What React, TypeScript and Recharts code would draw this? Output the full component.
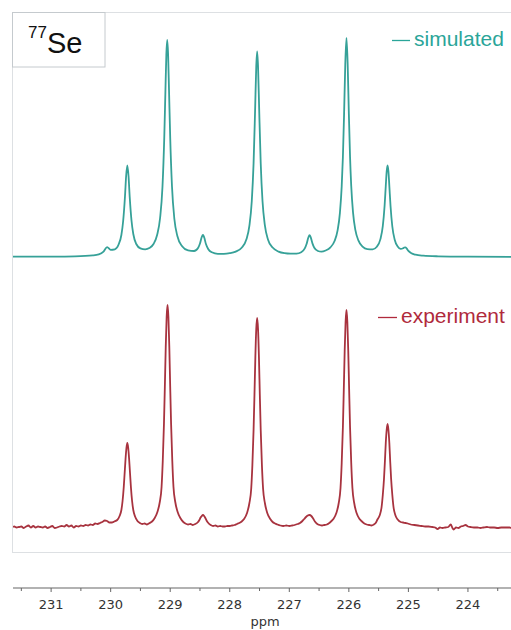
import React from 'react';
import { LineChart, Line, XAxis, YAxis } from 'recharts';

// [ppm, intensity above baseline]
const simulatedPoints: [number, number][] = [
  [231.64, 0.3], [231.0, 0.4], [230.6, 0.7], [230.3, 1.6], [230.2, 2.6], [230.12, 5.4],
  [230.06, 9.9], [230.0, 7.2], [229.93, 7.7], [229.87, 12], [229.82, 22], [229.79, 36],
  [229.76, 60], [229.74, 81], [229.72, 91.5], [229.7, 81], [229.68, 60], [229.65, 36.5],
  [229.62, 23], [229.57, 13], [229.5, 8.6], [229.42, 7.7], [229.35, 9], [229.28, 13],
  [229.22, 22], [229.17, 39], [229.13, 70], [229.1, 119], [229.08, 167], [229.065, 202],
  [229.05, 217], [229.035, 202], [229.02, 167], [229.0, 119.5], [228.97, 70.5], [228.93, 38],
  [228.88, 21], [228.8, 10.8], [228.7, 6.6], [228.6, 6], [228.53, 9.3], [228.5, 13.5],
  [228.47, 20], [228.45, 22], [228.43, 19.7], [228.4, 13], [228.36, 7.8], [228.3, 4.7],
  [228.2, 3.2], [228.1, 3.2], [228.0, 3.8], [227.9, 5.4], [227.8, 9.3], [227.72, 17.7],
  [227.67, 31.4], [227.63, 56], [227.6, 93.6], [227.575, 145.5], [227.555, 190.4], [227.54, 205.5],
  [227.525, 190.5], [227.505, 145.5], [227.48, 93.8], [227.45, 56], [227.41, 31.6], [227.36, 17.8],
  [227.28, 9.5], [227.18, 5.4], [227.08, 3.8], [226.98, 3.3], [226.88, 3.4], [226.8, 4.8],
  [226.74, 8.6], [226.71, 13], [226.68, 19.5], [226.66, 21.8], [226.64, 19.6], [226.61, 13.4],
  [226.58, 9.2], [226.52, 6], [226.46, 5.3], [226.39, 6.5], [226.31, 9.6], [226.24, 16],
  [226.19, 26.3], [226.15, 44.2], [226.12, 70.6], [226.1, 100], [226.08, 143], [226.06, 193],
  [226.04, 219], [226.02, 193.3], [226.0, 143.2], [225.98, 100.2], [225.96, 71], [225.93, 44.6],
  [225.89, 26.8], [225.84, 16.6], [225.77, 10.4], [225.69, 7.9], [225.6, 7.7], [225.53, 10.3],
  [225.47, 17.9], [225.43, 30.8], [225.4, 51], [225.38, 71], [225.365, 85.4], [225.35, 91.5],
  [225.335, 85.5], [225.32, 71], [225.3, 51], [225.27, 30.5], [225.23, 17.3], [225.18, 10.5],
  [225.13, 8.1], [225.09, 8.7], [225.07, 9.5], [225.05, 9.7], [225.03, 8.6], [225.0, 6.1],
  [224.95, 3.7], [224.88, 2.3], [224.75, 1.35], [224.5, 0.7], [224.0, 0.3], [223.27, 0.15],
];

const experimentPoints: [number, number][] = [
  [231.64, 0], [231.62, 0.5], [231.58, -0.5], [231.54, 0], [231.5, 0.5], [231.46, -1],
  [231.42, 0.5], [231.38, 1.5], [231.34, -0.5], [231.3, 1], [231.26, -0.5], [231.22, 0.5],
  [231.18, 0], [231.14, -0.5], [231.1, 0.5], [231.06, -1], [231.02, 0], [230.98, 1],
  [230.94, -1], [230.9, -0.5], [230.86, 0.5], [230.82, 1], [230.78, 0.5], [230.74, 2],
  [230.7, 0.5], [230.66, 1.5], [230.62, -0.5], [230.58, 1], [230.54, 0.5], [230.5, 1.5],
  [230.46, 1], [230.42, 2], [230.38, 1.5], [230.34, 2.5], [230.3, 2], [230.26, 3.5],
  [230.22, 3], [230.18, 4], [230.14, 5], [230.1, 6.5], [230.06, 6], [230.02, 4.5],
  [229.98, 4.5], [229.94, 5.5], [229.89, 7], [229.85, 11], [229.82, 17], [229.8, 26],
  [229.78, 40], [229.765, 54], [229.75, 68], [229.735, 79], [229.72, 84], [229.705, 79],
  [229.69, 68], [229.675, 54], [229.66, 40], [229.64, 26], [229.62, 17], [229.59, 10.5],
  [229.55, 6], [229.51, 4], [229.47, 3], [229.43, 3.5], [229.39, 2.5], [229.345, 4],
  [229.305, 5.5], [229.265, 8.5], [229.215, 15], [229.175, 25], [229.145, 40], [229.125, 66],
  [229.105, 103], [229.09, 140], [229.075, 180], [229.06, 210], [229.045, 222], [229.03, 210],
  [229.015, 180], [229.0, 140], [228.985, 103], [228.965, 66], [228.945, 40], [228.915, 25],
  [228.875, 15], [228.825, 8.5], [228.78, 5], [228.745, 3.5], [228.7, 2.5], [228.66, 3],
  [228.62, 2], [228.58, 3], [228.54, 4.5], [228.51, 7], [228.49, 9.5], [228.47, 11],
  [228.45, 12], [228.43, 11], [228.41, 9], [228.39, 6.5], [228.36, 4], [228.32, 2],
  [228.28, 1], [228.24, 1.5], [228.2, 0.5], [228.16, 1], [228.12, 0.5], [228.08, 0.5],
  [228.04, 1], [228.0, 1], [227.96, 1.5], [227.92, 2], [227.88, 3], [227.84, 4],
  [227.8, 5.5], [227.76, 8], [227.71, 14], [227.67, 24], [227.64, 38], [227.62, 62],
  [227.6, 97], [227.585, 132], [227.57, 170], [227.555, 198], [227.54, 209], [227.525, 198],
  [227.51, 170], [227.495, 132], [227.48, 97], [227.46, 62], [227.44, 38], [227.41, 24],
  [227.37, 14], [227.32, 8], [227.28, 5], [227.24, 3.5], [227.2, 2.5], [227.15, 1.5],
  [227.1, 1], [227.05, 1.5], [227.0, 1], [226.95, 1.5], [226.91, 2], [226.86, 3],
  [226.82, 4], [226.78, 6], [226.75, 8], [226.72, 10], [226.69, 11.5], [226.66, 12],
  [226.63, 11], [226.6, 8.5], [226.57, 5.5], [226.53, 3], [226.49, 2], [226.45, 1.5],
  [226.41, 2], [226.37, 2.5], [226.34, 3.5], [226.3, 5.5], [226.26, 8], [226.21, 14],
  [226.17, 24], [226.14, 39], [226.12, 64], [226.1, 100], [226.085, 137], [226.07, 176],
  [226.055, 205], [226.04, 217], [226.025, 205], [226.01, 176], [225.995, 137], [225.98, 100],
  [225.96, 64], [225.94, 39], [225.91, 24], [225.87, 14], [225.82, 8], [225.78, 5.5],
  [225.74, 3.5], [225.7, 2.5], [225.66, 2], [225.62, 1.5], [225.58, 2.5], [225.55, 4],
  [225.52, 7.5], [225.48, 12], [225.45, 20], [225.43, 32], [225.41, 48], [225.395, 65],
  [225.38, 84], [225.365, 97], [225.35, 103], [225.335, 97], [225.32, 84], [225.305, 65],
  [225.29, 48], [225.27, 32], [225.25, 20], [225.22, 12], [225.18, 7.5], [225.13, 5],
  [225.09, 4.5], [225.05, 4], [225.01, 3.5], [224.96, 2.5], [224.9, 2], [224.84, 1.5],
  [224.78, 1], [224.72, 0.5], [224.66, 0.5], [224.6, 0], [224.55, -0.5], [224.51, -2],
  [224.47, -0.5], [224.43, -1], [224.38, -0.5], [224.33, 0], [224.29, 2.5], [224.26, -1],
  [224.24, -2.5], [224.2, -0.5], [224.16, -1], [224.12, 0.5], [224.08, 1], [224.04, 2],
  [224.0, 0.5], [223.96, 0], [223.9, -0.5], [223.84, -0.5], [223.79, -1], [223.74, -0.5],
  [223.68, 0], [223.63, -0.5], [223.56, -0.5], [223.5, -1], [223.44, -0.5], [223.38, -0.5],
  [223.3, -0.5], [223.27, -1],
];

const majorTicks = [231, 230, 229, 228, 227, 226, 225, 224];
const minorTicks = [231.5, 230.5, 229.5, 228.5, 227.5, 226.5, 225.5, 224.5, 223.5];
const seriesNames = ['simulated', 'experiment'];
const seriesColors = ['#36a198', '#a8333f'];
const legendColors = ['#2aa599', '#b02a3c'];
const axisTitle = 'ppm';
const nucleusMass = '77';
const nucleusSymbol = 'Se';

const simData = simulatedPoints.map(([x, y]) => ({ x, y }));
const expData = experimentPoints.map(([x, y]) => ({ x, y }));
const allTicks = [...majorTicks, ...minorTicks].sort((a, b) => b - a);

const W = 511;
const H = 630;

function Tick(props: any) {
  const { x, y, payload } = props;
  const v = payload.value as number;
  const major = majorTicks.includes(v);
  return (
    <g>
      <line x1={x} x2={x} y1={y} y2={y + (major ? 4 : 3)} stroke="#666" strokeWidth={1} />
      {major && (
        <text x={x} y={y + 21} textAnchor="middle" fontFamily="DejaVu Sans" fontSize={13} fill="#333">
          {String(v)}
        </text>
      )}
    </g>
  );
}

export default function App() {
  return (
    <div style={{ position: 'absolute', left: 0, top: 0, width: W, height: H, background: '#fff', overflow: 'hidden' }}>
      <svg width={W} height={H} style={{ position: 'absolute', left: 0, top: 0 }}>
        <rect x={12.5} y={12.5} width={530} height={540} fill="none" stroke="#dde0e3" strokeWidth={1} />
      </svg>
      <div style={{ position: 'absolute', left: 0, top: 0 }}>
        <LineChart width={W} height={H} margin={{ top: 0, right: 0, bottom: 0, left: 13 }}>
          <XAxis
            dataKey="x"
            type="number"
            domain={[223.277, 231.64]}
            reversed
            allowDataOverflow
            ticks={allTicks}
            interval={0}
            tickSize={0}
            tickMargin={0}
            tickLine={false}
            tick={<Tick />}
            height={42}
            axisLine={{ stroke: '#666', strokeWidth: 1.2 }}
            label={{ value: axisTitle, position: 'insideBottom', offset: 4, dx: 3, fontFamily: 'DejaVu Sans', fontSize: 13, fill: '#333' }}
          />
          <YAxis yAxisId="sim" type="number" hide domain={[-331, 257]} allowDataOverflow />
          <YAxis yAxisId="exp" type="number" hide domain={[-61, 527]} allowDataOverflow />
          <Line
            yAxisId="sim"
            data={simData}
            dataKey="y"
            name={seriesNames[0]}
            type="monotoneX"
            stroke={seriesColors[0]}
            strokeWidth={1.8}
            dot={false}
            activeDot={false}
            isAnimationActive={false}
          />
          <Line
            yAxisId="exp"
            data={expData}
            dataKey="y"
            name={seriesNames[1]}
            type="monotoneX"
            stroke={seriesColors[1]}
            strokeWidth={1.8}
            dot={false}
            activeDot={false}
            isAnimationActive={false}
          />
        </LineChart>
      </div>
      <svg width={W} height={H} style={{ position: 'absolute', left: 0, top: 0, pointerEvents: 'none' }}>
        <rect x={12.5} y={12.5} width={92.5} height={54.5} fill="#fff" stroke="#c5cace" strokeWidth={1} />
        <text fontFamily="Liberation Sans" fill="#111">
          <tspan x={28} y={38} fontSize={17}>{nucleusMass}</tspan>
          <tspan x={47} y={53} fontSize={29}>{nucleusSymbol}</tspan>
        </text>
        <line x1={392} x2={410} y1={40.5} y2={40.5} stroke={legendColors[0]} strokeWidth={1.3} />
        <text x={414} y={46} fontFamily="Liberation Sans" fontSize={21} fill={legendColors[0]}>{seriesNames[0]}</text>
        <line x1={378} x2={397} y1={317.5} y2={317.5} stroke={legendColors[1]} strokeWidth={1.3} />
        <text x={401} y={323} fontFamily="Liberation Sans" fontSize={21} fill={legendColors[1]}>{seriesNames[1]}</text>
      </svg>
    </div>
  );
}
